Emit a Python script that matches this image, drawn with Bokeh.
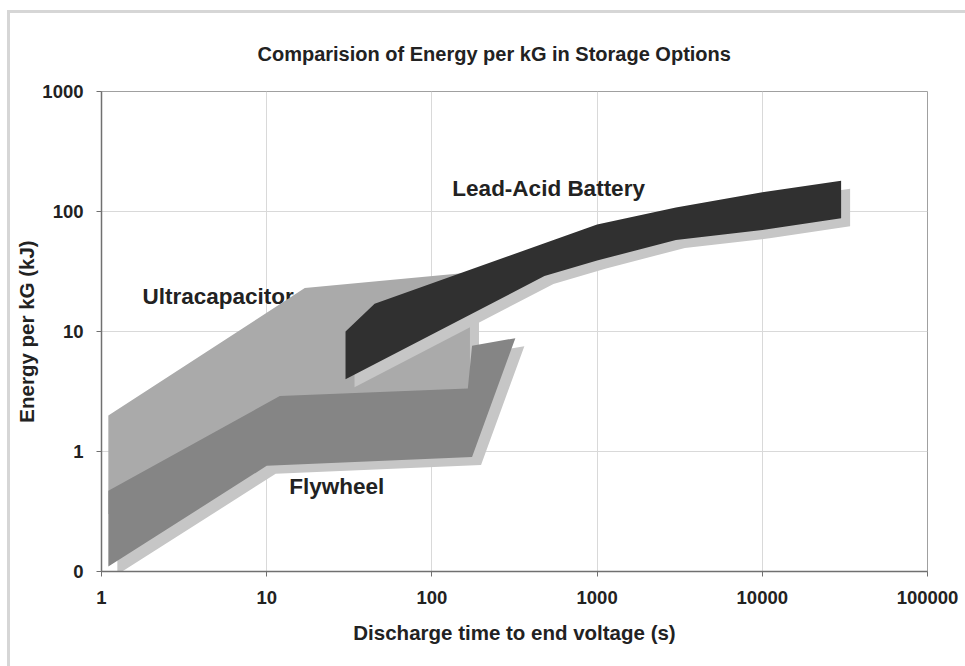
import numpy as np
from bokeh.plotting import figure
from bokeh.models import FixedTicker, CustomJSTickFormatter
from bokeh.core.properties import value
from bokeh.embed import file_html
from bokeh.resources import INLINE

# Operating envelopes: discharge time (s) vs energy per kG (kJ)
ultracap_t = [1.1, 17, 170, 170, 12, 1.1]
ultracap_e = [2.0, 23, 31, 3.3, 2.0, 0.3]

flywheel_t = [1.1, 12, 165, 175, 320, 175, 10, 1.1]
flywheel_e = [0.47, 2.9, 3.35, 7.6, 8.8, 0.9, 0.76, 0.11]

lead_upper_t = [30, 45, 1000, 3000, 10000, 30000]
lead_upper_e = [10, 17, 78, 108, 145, 180]
lead_lower_t = [30, 480, 1000, 3000, 10000, 30000]
lead_lower_e = [4, 29, 39, 58, 70, 88]

x_ticks = [1, 10, 100, 1000, 10000, 100000]
y_ticks = [0.1, 1, 10, 100, 1000]

labels = ["Ultracapacitor", "Flywheel", "Lead-Acid Battery"]
label_t = [1.77, 13.7, 133]
label_e = [19.6, 0.51, 155]

FONT = "Liberation Sans"

p = figure(
    width=965, height=666,
    x_axis_type="log", y_axis_type="log",
    x_range=(1, 100000), y_range=(0.1, 1000),
    output_backend="svg", toolbar_location=None,
    min_border_left=101, min_border_right=38,
    min_border_top=91, min_border_bottom=95,
    border_fill_color=None,
    background_fill_color="white",
    outline_line_color="#a0a0a0",
    styles={"box-shadow": "inset 7px 10px 0 0 white, inset 10px 13px 0 0 #d6d6d6",
            "background-color": "white"},
    title="Comparision of Energy per kG in Storage Options",
)

# title
p.title.align = "left"
p.title.offset = 156
p.title.standoff = 54
p.title.text_font = FONT
p.title.text_font_style = "bold"
p.title.text_font_size = "20px"
p.title.text_color = "#222222"

# axes
for ax, ticks in ((p.xaxis, x_ticks), (p.yaxis, y_ticks)):
    ax.ticker = FixedTicker(ticks=ticks, minor_ticks=[])
    ax.formatter = CustomJSTickFormatter(code="return tick < 1 ? '0' : tick.toFixed(0);")
    ax.axis_line_color = "#707070"
    ax.axis_line_width = 1.5
    ax.major_tick_line_color = "#707070"
    ax.major_tick_out = 5
    ax.major_tick_in = 0
    ax.minor_tick_out = 0
    ax.minor_tick_in = 0
    ax.major_label_text_font = FONT
    ax.major_label_text_font_style = "bold"
    ax.major_label_text_font_size = "18.5px"
    ax.major_label_text_color = "#222222"
    ax.axis_label_text_font = FONT
    ax.axis_label_text_font_style = "bold"
    ax.axis_label_text_font_size = "20.5px"
    ax.axis_label_text_color = "#222222"

p.xaxis.axis_label = "Discharge time to end voltage (s)"
p.yaxis.axis_label = "Energy per kG (kJ)"
p.xaxis.major_label_standoff = 14
p.xaxis.axis_label_standoff = 14
p.yaxis.major_label_standoff = 13
p.yaxis.axis_label_standoff = 1

p.xgrid.ticker = FixedTicker(ticks=x_ticks, minor_ticks=[])
p.ygrid.ticker = FixedTicker(ticks=y_ticks, minor_ticks=[])
p.grid.grid_line_color = "#d9d9d9"
p.grid.grid_line_width = 1

# drop shadow offset (pixels) expressed as multiplicative shifts on the log scales
shadow_dx, shadow_dy = 9, 8
sx = 10 ** (shadow_dx / (826 / 5))
sy = 10 ** (-shadow_dy / (480 / 4))
SHADOW = "#c6c6c6"

# labels sit underneath the envelopes
p.text(x=label_t, y=label_e, text=labels,
       text_font=value(FONT), text_font_style="bold", text_font_size="22.5px",
       text_color="#222222", text_align="left", text_baseline="middle")

def envelope(t, e, color):
    t = np.asarray(t, dtype=float)
    e = np.asarray(e, dtype=float)
    p.patch(t * sx, e * sy, fill_color=SHADOW, line_color=None)
    p.patch(t, e, fill_color=color, line_color=None)

envelope(ultracap_t, ultracap_e, "#aaaaaa")
envelope(flywheel_t, flywheel_e, "#858585")
envelope(lead_upper_t + lead_lower_t[::-1], lead_upper_e + lead_lower_e[::-1], "#303030")

open("out.html", "w").write(file_html(p, INLINE))
